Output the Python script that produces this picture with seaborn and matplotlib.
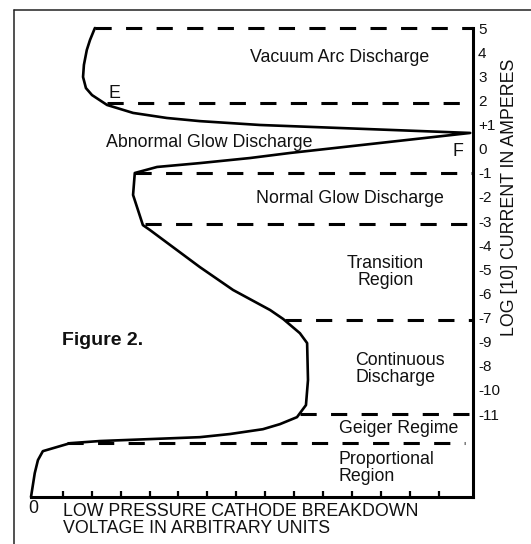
import matplotlib
matplotlib.use("Agg")
import matplotlib.pyplot as plt
from matplotlib.lines import Line2D
import seaborn as sns
import pandas as pd

# Breakdown characteristic: voltage (arbitrary units) vs. log10 current position
volts = [2.11, 1.94, 1.83, 1.73, 1.70, 1.80, 2.01, 2.53, 3.43, 4.60, 5.74, 7.82,
         15.09,
         8.86, 7.47, 5.74, 4.26, 3.49, 3.43, 3.77, 4.01, 5.74, 6.89, 8.17, 8.62,
         9.20, 9.45, 9.48, 9.41, 9.10, 8.51, 7.92, 6.78, 5.74, 4.01, 2.28, 1.25,
         0.31, 0.14, 0.03, -0.10]
log_current = [5.00, 4.50, 4.09, 3.47, 2.97, 2.51, 2.22, 1.81, 1.48, 1.27, 1.14, 0.98,
               0.65,
               -0.18, -0.39, -0.60, -0.76, -1.01, -1.92, -3.17, -3.37, -4.91, -5.86,
               -6.69, -7.06, -7.65, -8.06, -9.59, -10.63, -11.13, -11.42, -11.63,
               -11.83, -11.96, -12.04, -12.12, -12.21, -12.54, -12.91, -13.45, -14.44]

# Region boundaries: level, start voltage, end voltage
boundary_levels = [5.0, 1.89, -1.01, -3.13, -7.11, -11.0, -12.21]
boundary_starts = [2.11, 2.53, 3.49, 3.84, 8.69, 9.20, 1.14]
boundary_ends = [15.17, 15.17, 15.17, 15.17, 15.17, 15.17, 14.91]

# Right-hand axis labels
ytick_pos = [5, 4, 3, 2, 1, 0, -1, -2, -3, -4, -5, -6, -7, -8, -9, -10, -11]
ytick_labels = ["5", "4", "3", "2", "+1", "0", "-1", "-2", "-3", "-4", "-5", "-6",
                "-7", "-9", "-8", "-10", "-11"]
xtick_pos = list(range(1, 15))

sns.set_style("white")
plt.rcParams["font.family"] = ["Liberation Sans", "DejaVu Sans"]

fig = plt.figure(figsize=(5.31, 5.44), dpi=100)
ax = fig.add_axes([31 / 531, 1 - 497 / 544, (472.5 - 31) / 531, (497 - 28) / 544])

df = pd.DataFrame({"volts": volts, "log_current": log_current})
sns.lineplot(data=df, x="volts", y="log_current", sort=False, estimator=None,
             color="black", linewidth=1.9, ax=ax, clip_on=False)

for lvl, x0, x1 in zip(boundary_levels, boundary_starts, boundary_ends):
    ax.plot([x0, x1], [lvl, lvl], color="black", linewidth=2.2,
            dashes=(5.3, 4.7), solid_capstyle="butt", dash_capstyle="butt",
            clip_on=False)

ax.set_xlim(-0.1, 15.17)
ax.set_ylim(-14.44, 5.0)

for side in ("top", "left"):
    ax.spines[side].set_visible(False)
for side in ("bottom", "right"):
    ax.spines[side].set_linewidth(2.2)
    ax.spines[side].set_color("black")

ax.set_xticks(xtick_pos)
ax.set_xticklabels([])
ax.tick_params(axis="x", direction="in", length=4, width=1.6, color="black",
               bottom=True)
ax.yaxis.tick_right()
ax.set_yticks(ytick_pos)
ax.set_yticklabels(ytick_labels)
ax.tick_params(axis="y", length=0, pad=4, labelsize=11, labelcolor="#111111")
ax.set_xlabel("")
ax.set_ylabel("")

fs = 12.8
txt = dict(color="#111111", fontsize=fs)
ax.text(10.59, 3.76, "Vacuum Arc Discharge", ha="center", va="center", **txt)
ax.text(2.80, 2.30, "E", ha="center", va="center", **txt)
ax.text(2.49, 0.27, "Abnormal Glow Discharge", ha="left", va="center", **txt)
ax.text(14.67, -0.10, "F", ha="center", va="center", **txt)
ax.text(7.68, -2.05, "Normal Glow Discharge", ha="left", va="center", **txt)
ax.text(12.15, -5.12, "Transition\nRegion", ha="center", va="center",
        linespacing=1.0, **txt)
ax.text(11.11, -9.14, "Continuous\nDischarge", ha="left", va="center",
        linespacing=1.0, **txt)
ax.text(12.6, -11.58, "Geiger Regime", ha="center", va="center", **txt)
ax.text(10.55, -13.24, "Proportional\nRegion", ha="left", va="center",
        linespacing=1.0, **txt)
ax.text(0.97, -7.94, "Figure 2.", ha="left", va="center", fontsize=14,
        fontweight="bold", color="#111111")
ax.text(-0.03, -14.9, "0", ha="center", va="center", clip_on=False, **txt)
ax.text(1.0, -15.4, "LOW PRESSURE CATHODE BREAKDOWN\nVOLTAGE IN ARBITRARY UNITS",
        ha="left", va="center", linespacing=1.0, clip_on=False, **txt)

fig.text(510 / 531, 1 - 197 / 544, "LOG [10] CURRENT IN AMPERES", rotation=90,
         ha="center", va="center", **txt)

# Frame around the figure (left and top edges)
fig.add_artist(Line2D([14 / 531, 14 / 531], [0, 1 - 10 / 544], color="#222222",
                      linewidth=1.1, transform=fig.transFigure))
fig.add_artist(Line2D([14 / 531, 1], [1 - 10 / 544, 1 - 10 / 544], color="#222222",
                      linewidth=1.1, transform=fig.transFigure))

fig.savefig("out.png", dpi=100, facecolor="white")
